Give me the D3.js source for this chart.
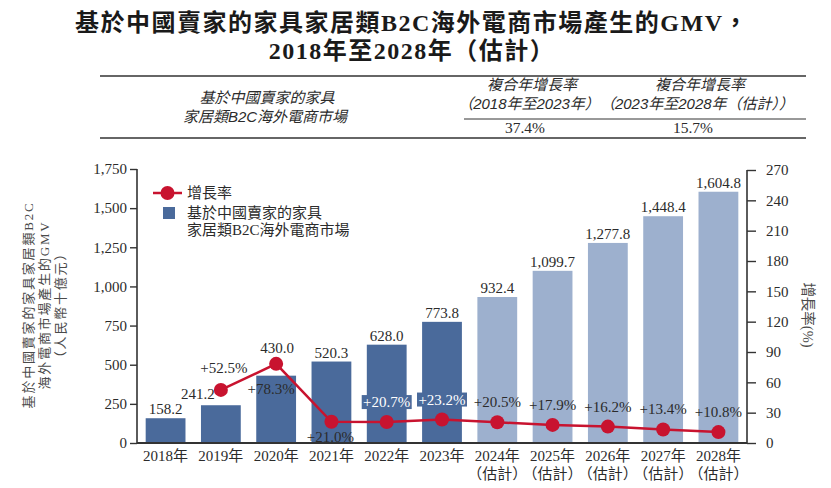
<!DOCTYPE html>
<html>
<head>
<meta charset="utf-8">
<script src="https://cdn.jsdelivr.net/npm/d3@7"></script>
<style>
  html, body { margin: 0; padding: 0; background: #fff; }
  svg { display: block; }
  text { font-family: "Liberation Serif", "Noto Sans CJK TC", serif; }
  text.sans, .sans text, text .sans { font-family: "Liberation Sans", "Noto Sans CJK TC", sans-serif; }
</style>
</head>
<body>
<svg id="chart" width="831" height="488" fill="#2b2b2b"></svg>
<script>
// ---------------- data ----------------
const years = ["2018年", "2019年", "2020年", "2021年", "2022年", "2023年", "2024年", "2025年", "2026年", "2027年", "2028年"];
const estimated = [false, false, false, false, false, false, true, true, true, true, true];
const gmv = [158.2, 241.2, 430.0, 520.3, 628.0, 773.8, 932.4, 1099.7, 1277.8, 1448.4, 1604.8];
const growth = [null, 52.5, 78.3, 21.0, 20.7, 23.2, 20.5, 17.9, 16.2, 13.4, 10.8];
const leftTicks = [0, 250, 500, 750, 1000, 1250, 1500, 1750];
const rightTicks = [0, 30, 60, 90, 120, 150, 180, 210, 240, 270];
const cagrHeaders = ["複合年增長率", "複合年增長率"];
const cagrPeriods = ["（2018年至2023年）", "（2023年至2028年（估計））"];
const cagrValues = ["37.4%", "15.7%"];

// ---------------- style / layout ----------------
const C = { dark: "#4a6a9b", light: "#9db0ce", red: "#c8132f", axis: "#333", text: "#2b2b2b" };
const svg = d3.select("#chart");

// title
const title = svg.append("g").attr("font-weight", "bold").attr("text-anchor", "middle").style("letter-spacing", "1.5px");
title.append("text").attr("x", 412).attr("y", 31).attr("font-size", 24).attr("fill", "#1a1a1a")
  .text("基於中國賣家的家具家居類B2C海外電商市場產生的GMV，");
title.append("text").attr("x", 412).attr("y", 59).attr("font-size", 24).attr("fill", "#1a1a1a")
  .text("2018年至2028年（估計）");

// table
const tbl = svg.append("g");
tbl.append("line").attr("x1", 100).attr("x2", 806).attr("y1", 76).attr("y2", 76).attr("stroke", "#333").attr("stroke-width", 1.6);
tbl.append("line").attr("x1", 464).attr("x2", 806).attr("y1", 119).attr("y2", 119).attr("stroke", "#333").attr("stroke-width", 1);
tbl.append("line").attr("x1", 100).attr("x2", 806).attr("y1", 138).attr("y2", 138).attr("stroke", "#333").attr("stroke-width", 1.6);
const rowLbl = tbl.append("text").attr("class", "sans").attr("font-style", "italic").attr("font-size", 15).attr("text-anchor", "middle");
rowLbl.append("tspan").attr("x", 267).attr("y", 103).text("基於中國賣家的家具");
rowLbl.append("tspan").attr("x", 265).attr("y", 122).text("家居類B2C海外電商市場");
const colX = [529, 697];
cagrHeaders.forEach((h, i) => {
  const t = tbl.append("text").attr("class", "sans").attr("font-style", "italic").attr("font-size", 15).attr("text-anchor", "middle");
  t.append("tspan").attr("x", colX[i] + 3).attr("y", 90).text(h);
  t.append("tspan").attr("x", colX[i]).attr("y", 109).text(cagrPeriods[i]);
  tbl.append("text").attr("x", colX[i] - 4).attr("y", 133).attr("font-size", 15.5).attr("text-anchor", "middle").text(cagrValues[i]);
});

// scales
const x = d3.scaleBand().domain(years).range([137, 747]).paddingInner(0.28).paddingOuter(0.157);
const yL = d3.scaleLinear().domain([0, 1750]).range([443, 169]);
const yR = d3.scaleLinear().domain([0, 270]).range([443, 170]);
const cx = i => x(years[i]) + x.bandwidth() / 2;

// bars
svg.append("g").selectAll("rect").data(gmv).join("rect")
  .attr("x", (d, i) => x(years[i])).attr("width", x.bandwidth())
  .attr("y", d => yL(d)).attr("height", d => yL(0) - yL(d))
  .attr("fill", (d, i) => estimated[i] ? C.light : C.dark);

// value labels
const valOff = i => i === 1 ? [-23, -11] : i === 2 ? [1, -28] : [0, -9];
svg.append("g").selectAll("text").data(gmv).join("text")
  .attr("x", (d, i) => cx(i) + valOff(i)[0]).attr("y", (d, i) => yL(d) + valOff(i)[1])
  .attr("dominant-baseline", "central").attr("text-anchor", "middle").attr("font-size", 15)
  .attr("fill", C.text)
  .text(d => d3.format(",.1f")(d));

// axes
const axL = svg.append("g").attr("transform", "translate(137,0)")
  .call(d3.axisLeft(yL).tickValues(leftTicks).tickFormat(d3.format(",")).tickSize(7).tickSizeOuter(0).tickPadding(3));
const axR = svg.append("g").attr("transform", "translate(747,0)")
  .call(d3.axisRight(yR).tickValues(rightTicks).tickSize(9).tickSizeOuter(0).tickPadding(10));
[axL, axR].forEach(a => {
  a.select(".domain").attr("stroke", C.axis).attr("stroke-width", 1.6);
  a.selectAll(".tick line").attr("stroke", C.axis).attr("stroke-width", 1.4);
  a.selectAll(".tick text").attr("font-size", 15).attr("fill", C.text)
    .attr("font-family", "Liberation Serif, serif");
});
axL.select(".domain").attr("d", "M0,169V443");
axR.select(".domain").attr("d", "M0,170V443");
svg.append("line").attr("x1", 137).attr("x2", 747).attr("y1", 443).attr("y2", 443).attr("stroke", C.axis).attr("stroke-width", 1.8);

// x labels
const xl = svg.append("g").attr("text-anchor", "middle").attr("font-size", 15).attr("fill", C.text);
years.forEach((yname, i) => {
  const t = xl.append("text").attr("x", cx(i)).attr("y", 461);
  t.append("tspan").attr("x", cx(i)).attr("y", 461).text(yname);
  if (estimated[i]) t.append("tspan").attr("x", cx(i)).attr("y", 479).text("（估計）");
});

// growth line
const gpts = growth.map((g, i) => ({ g, i })).filter(d => d.g !== null);
svg.append("path").datum(gpts)
  .attr("d", d3.line().x(d => cx(d.i)).y(d => yR(d.g)))
  .attr("fill", "none").attr("stroke", C.red).attr("stroke-width", 2.5);
svg.append("g").selectAll("circle").data(gpts).join("circle")
  .attr("cx", d => cx(d.i)).attr("cy", d => yR(d.g)).attr("r", 7).attr("fill", C.red);

// growth labels
const gOff = i => i === 1 ? [3, -22] : i === 2 ? [-5, 25] : i === 3 ? [-1, 15] : [0, -20];
const boxed = i => i === 4 || i === 5;
const gl = svg.append("g");
gpts.forEach(d => {
  const [dx, dy] = gOff(d.i);
  const px = cx(d.i) + dx, py = yR(d.g) + dy;
  if (boxed(d.i)) {
    gl.append("rect").attr("x", px - 25).attr("y", py - 7).attr("width", 50).attr("height", 14).attr("fill", C.dark);
  }
  gl.append("text").attr("x", px).attr("y", py).attr("text-anchor", "middle").attr("dominant-baseline", "central")
    .attr("font-size", 15).attr("fill", boxed(d.i) ? "#ffffff" : C.text)
    .text("+" + d.g.toFixed(1) + "%");
});

// legend
const lg = svg.append("g").attr("fill", C.text);
lg.append("line").attr("x1", 153).attr("x2", 182).attr("y1", 193).attr("y2", 193).attr("stroke", C.red).attr("stroke-width", 2.5);
lg.append("circle").attr("cx", 167.5).attr("cy", 193).attr("r", 7).attr("fill", C.red);
lg.append("text").attr("x", 187).attr("y", 193).attr("dominant-baseline", "central").attr("font-size", 15).text("增長率");
lg.append("rect").attr("x", 163).attr("y", 207).attr("width", 12).attr("height", 12).attr("fill", C.dark);
lg.append("text").attr("x", 187).attr("y", 213).attr("dominant-baseline", "central").attr("font-size", 15).text("基於中國賣家的家具");
lg.append("text").attr("x", 187).attr("y", 230).attr("dominant-baseline", "central").attr("font-size", 15).text("家居類B2C海外電商市場");

// axis titles
const lt = svg.append("text").attr("transform", "translate(0,305) rotate(-90)").attr("text-anchor", "middle")
  .attr("font-size", 13).attr("fill", "#4a4a4a").style("letter-spacing", "1.8px");
lt.append("tspan").attr("x", 0).attr("y", 33).text("基於中國賣家的家具家居類B2C");
lt.append("tspan").attr("x", 0).attr("y", 49).text("海外電商市場產生的GMV");
lt.append("tspan").attr("x", 0).attr("y", 65).text("（人民幣十億元）");
svg.append("text").attr("transform", "translate(808,315) rotate(90)").attr("text-anchor", "middle")
  .attr("dominant-baseline", "central").attr("font-size", 14.5).attr("fill", "#4a4a4a").text("增長率(%)");
</script>
</body>
</html>
